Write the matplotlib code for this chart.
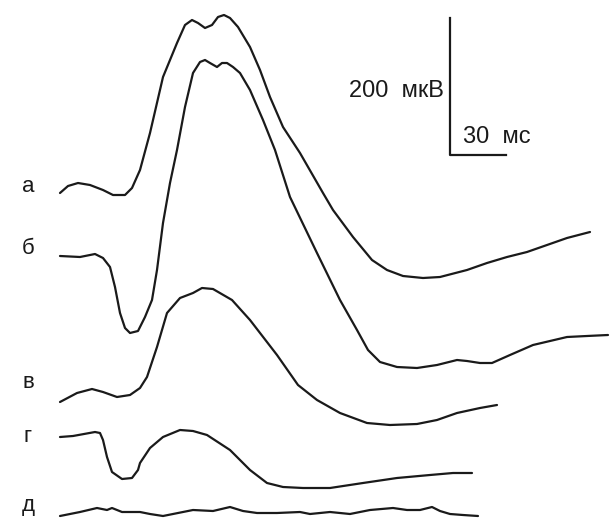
import matplotlib.pyplot as plt

# traces (x: time axis px, y: screen px, downwards)
a_x = [60, 68, 78, 90, 103, 113, 125, 132, 140, 150, 163, 177, 185, 192, 198, 205, 212, 218, 224, 230,
       238, 250, 260, 270, 283, 300, 323, 333, 353, 372, 387, 403, 423, 440, 467, 487, 507, 527, 547, 567, 590]
a_y = [193, 186, 183, 185, 190, 195, 195, 188, 170, 133, 77, 43, 25, 20, 23, 28, 25, 17, 15, 18,
       27, 47, 70, 97, 127, 153, 193, 210, 237, 260, 270, 276, 278, 277, 270, 263, 257, 252, 245, 238, 232]

b_x = [60, 80, 95, 103, 110, 115, 120, 125, 130, 138, 145, 152, 157, 163, 170, 177, 185, 193, 200, 205,
       210, 217, 222, 227, 233, 240, 250, 263, 275, 290, 317, 340, 357, 368, 380, 397, 417, 437, 457, 467,
       480, 492, 510, 533, 550, 567, 587, 608]
b_y = [256, 257, 254, 258, 267, 287, 313, 328, 333, 331, 317, 300, 270, 223, 183, 150, 107, 73, 62, 60,
       63, 67, 63, 63, 67, 73, 90, 120, 150, 197, 253, 300, 330, 350, 362, 367, 368, 365, 360, 361,
       363, 363, 355, 345, 341, 337, 336, 335]

v_x = [60, 77, 92, 103, 117, 130, 140, 147, 157, 167, 180, 193, 202, 213, 232, 250, 277, 298, 317, 340,
       367, 390, 417, 437, 457, 480, 497]
v_y = [402, 393, 389, 392, 397, 395, 388, 377, 347, 313, 298, 293, 288, 289, 300, 320, 355, 385, 400, 413,
       423, 425, 424, 420, 413, 408, 405]

g_x = [60, 73, 95, 100, 103, 107, 112, 122, 132, 138, 140, 150, 163, 180, 193, 207, 230, 250, 267, 283,
       303, 330, 363, 397, 430, 453, 472]
g_y = [437, 436, 432, 433, 440, 457, 472, 479, 478, 470, 463, 448, 437, 430, 431, 435, 450, 470, 483, 487,
       488, 488, 483, 478, 475, 473, 473]

d_x = [60, 80, 97, 107, 112, 122, 140, 150, 163, 173, 193, 213, 230, 243, 257, 277, 300, 310, 330, 350,
       370, 393, 407, 420, 432, 440, 450, 463, 478]
d_y = [516, 512, 508, 510, 508, 512, 512, 514, 516, 514, 510, 511, 507, 511, 513, 513, 512, 514, 512, 514,
       510, 508, 510, 510, 507, 511, 514, 515, 516]

labels = ["а", "б", "в", "г", "д"]
label_y = [187, 249, 383, 437, 505]

plt.rcParams['font.family'] = ['Liberation Sans', 'DejaVu Sans']

fig = plt.figure(figsize=(6.1, 5.18), dpi=100)
ax = fig.add_axes([0, 0, 1, 1])
ax.set_xlim(0, 610)
ax.set_ylim(518, 0)
ax.axis("off")

for xs, ys in [(a_x, a_y), (b_x, b_y), (v_x, v_y), (g_x, g_y), (d_x, d_y)]:
    ax.plot(xs, ys, color="#1a1a1a", lw=1.6, solid_joinstyle="round", solid_capstyle="round")

for lab, y in zip(labels, label_y):
    ax.text(28, y, lab, fontsize=16, ha="center", va="center", color="#1a1a1a")

# scale bar
ax.plot([450, 450, 506], [18, 155, 155], color="#1a1a1a", lw=1.6)
ax.text(444, 91, "200  мкВ", fontsize=17, ha="right", va="center", color="#1a1a1a")
ax.text(463, 137, "30  мс", fontsize=17, ha="left", va="center", color="#1a1a1a")

fig.savefig("out.png", dpi=100)
